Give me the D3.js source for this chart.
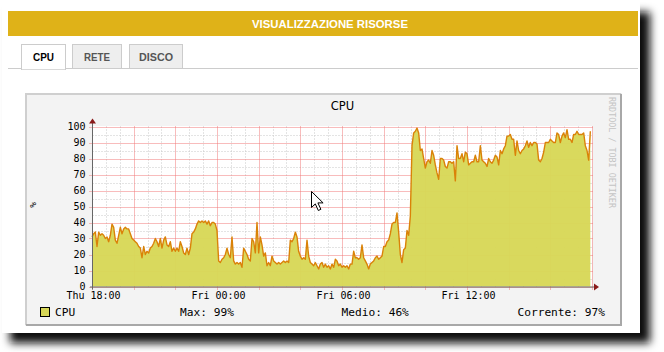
<!DOCTYPE html>
<html lang="it">
<head>
<meta charset="UTF-8">
<title>Visualizzazione risorse - CPU</title>
<script src="https://d3js.org/d3.v7.min.js"></script>
<style>
  body { margin: 0; background: #fff; }
  svg { display: block; }
</style>
</head>
<body>
<script>
// CPU usage (%), one sample every 4.8 minutes from Thu 18:00
const cpuValues = [
  31,33,34,25,34,32,33,32,30,31, 28,32,39,37,29,27,32,37,33,36,
  37,36,36,33,30,29,28,27,25,24, 18,25,20,22,21,24,25,27,30,28,
  25,30,24,29,31,26,25,28,22,24, 22,24,22,28,25,21,20,24,20,24,
  33,34,36,39,41,40,41,40,41,39, 41,38,40,40,39,35,16,15,17,18,
  20,24,20,18,31,16,14,15,14,15, 12,24,22,20,17,16,30,28,21,40,
  21,31,26,19,21,13,15,13,19,16, 15,14,15,14,15,16,15,16,15,29,
  28,30,34,31,22,19,17,18,17,29, 19,15,14,13,15,13,11,14,15,12,
  14,12,13,11,14,12,17,16,13,14, 12,13,12,13,11,14,14,22,18,18,
  17,18,26,18,16,14,11,14,15,16, 18,19,17,18,19,25,25,28,29,33,
  39,40,40,46,34,20,15,23,24,35, 32,44,88,96,97,99,96,85,86,80,
  74,78,79,77,85,82,76,71,67,80, 80,79,75,74,78,78,77,78,66,88,
  80,80,83,78,84,83,76,77,78,78, 82,78,78,88,79,78,77,75,80,78,
  77,79,82,81,76,85,83,86,88,94, 94,95,92,92,82,91,85,83,85,86,
  88,91,87,90,88,90,90,89,79,78, 80,84,90,90,90,92,91,90,90,96,
  95,90,94,96,93,98,92,92,90,95, 95,97,95,95,95,96,88,85,79,97
];
const startTime = new Date(2013, 0, 3, 18, 0);   // Thu 18:00
const stepMinutes = 4.8;
const spanHours = 24;
const yTicks = [0, 10, 20, 30, 40, 50, 60, 70, 80, 90, 100];
const tabs = ["CPU", "RETE", "DISCO"];
const pageTitle = "VISUALIZZAZIONE RISORSE";
const graphTitle = "CPU";
const watermark = "RRDTOOL / TOBI OETIKER";

const W = 664, H = 352;
const plot = { left: 92, right: 592, top: 126.5, bottom: 286.5 };
const mono = "'DejaVu Sans Mono', monospace";
const sans = "'Liberation Sans', Arial, sans-serif";

const data = cpuValues.map((v, i) => ({ t: new Date(+startTime + i * stepMinutes * 60000), v }));
const endTime = d3.timeHour.offset(startTime, spanHours);

const svg = d3.select("body").append("svg")
  .attr("width", W).attr("height", H);

// page panel with drop shadow
const defs = svg.append("defs");
defs.append("filter").attr("id", "shadow")
  .attr("x", "-10%").attr("y", "-10%").attr("width", "120%").attr("height", "120%")
  .append("feGaussianBlur").attr("stdDeviation", 4);
svg.append("rect").attr("x", 10).attr("y", 12).attr("width", 640).attr("height", 331)
  .attr("fill", "#0a0a0a").attr("filter", "url(#shadow)");
svg.append("rect").attr("x", 2).attr("y", 2).attr("width", 638).attr("height", 331)
  .attr("fill", "#fff");

// header
svg.append("rect").attr("x", 8).attr("y", 11).attr("width", 630).attr("height", 25)
  .attr("fill", "#dfb218");
svg.append("text").attr("x", 330).attr("y", 27.5)
  .attr("text-anchor", "middle").attr("fill", "#fff")
  .attr("font-family", sans).attr("font-weight", "bold").attr("font-size", 11)
  .attr("textLength", 156).attr("lengthAdjust", "spacingAndGlyphs")
  .text(pageTitle);

// tabs
const tabBoxes = [{ x: 21, w: 44, tw: 21 }, { x: 72, w: 49, tw: 26 }, { x: 129, w: 53, tw: 34 }];
svg.append("line").attr("x1", 8).attr("x2", 638).attr("y1", 68.5).attr("y2", 68.5)
  .attr("stroke", "#ccc");
const tab = svg.selectAll(".tab").data(tabs).join("g").attr("class", "tab");
tab.append("rect")
  .attr("x", (d, i) => tabBoxes[i].x + 0.5).attr("y", 44.5)
  .attr("width", (d, i) => tabBoxes[i].w).attr("height", (d, i) => i === 0 ? 25 : 24)
  .attr("fill", (d, i) => i === 0 ? "#fff" : "#eee")
  .attr("stroke", "#ccc");
tab.filter((d, i) => i === 0).append("line")
  .attr("x1", 22).attr("x2", 65).attr("y1", 68.5).attr("y2", 68.5)
  .attr("stroke", "#fff").attr("stroke-width", 1.5);
tab.append("text")
  .attr("x", (d, i) => tabBoxes[i].x + tabBoxes[i].w / 2 + 0.5).attr("y", 60.5)
  .attr("text-anchor", "middle")
  .attr("font-family", sans).attr("font-weight", "bold").attr("font-size", 11)
  .attr("fill", (d, i) => i === 0 ? "#000" : "#555")
  .attr("textLength", (d, i) => tabBoxes[i].tw).attr("lengthAdjust", "spacingAndGlyphs")
  .text(d => d);

// rrdtool image frame
svg.append("rect").attr("x", 25).attr("y", 93).attr("width", 597).attr("height", 233)
  .attr("fill", "#f3f3f3");
svg.append("path").attr("d", "M26,325V94H621").attr("fill", "none")
  .attr("stroke", "#cfcfcf").attr("stroke-width", 2);
svg.append("path").attr("d", "M26,325H621V94").attr("fill", "none")
  .attr("stroke", "#a8a8a8").attr("stroke-width", 2);

// scales
const x = d3.scaleTime().domain([startTime, endTime]).range([plot.left, plot.right]);
const y = d3.scaleLinear().domain([0, 100]).range([plot.bottom, plot.top]);

svg.append("rect").attr("x", plot.left).attr("y", plot.top - 0.5)
  .attr("width", plot.right - plot.left).attr("height", plot.bottom - plot.top + 0.5)
  .attr("fill", "#fff");

// grid: gray minor (40 min / 5 %), red major (2 h / 10 %)
const grid = svg.append("g");
const minorTimes = d3.range(0, spanHours * 60 + 1, 40)
  .filter(m => m % 120 !== 0)
  .map(m => d3.timeMinute.offset(startTime, m));
const majorTimes = d3.timeHour.every(2).range(startTime, d3.timeMinute.offset(endTime, 1));
const labelTimes = d3.timeHour.every(6).range(startTime, endTime);
const minorY = d3.range(5, 101, 10);
const px = v => Math.round(v) + 0.5;

grid.selectAll(".vmin").data(minorTimes).join("line")
  .attr("x1", d => px(x(d))).attr("x2", d => px(x(d)))
  .attr("y1", plot.top).attr("y2", plot.bottom)
  .attr("stroke", "#c8c8c8").attr("stroke-dasharray", "1,2");
grid.selectAll(".hmin").data(minorY).join("line")
  .attr("x1", plot.left + 0.5).attr("x2", plot.right + 1)
  .attr("y1", d => px(y(d))).attr("y2", d => px(y(d)))
  .attr("stroke", "#c8c8c8").attr("stroke-dasharray", "1,2");
grid.selectAll(".vmaj").data(majorTimes).join("line")
  .attr("x1", d => px(x(d))).attr("x2", d => px(x(d)))
  .attr("y1", plot.top).attr("y2", plot.bottom + 3)
  .attr("stroke", "#f07878").attr("stroke-dasharray", "1,1");
grid.selectAll(".hmaj").data(yTicks).join("line")
  .attr("x1", plot.left - 2.5).attr("x2", plot.right + 1)
  .attr("y1", d => px(y(d))).attr("y2", d => px(y(d)))
  .attr("stroke", "#f07878").attr("stroke-dasharray", "1,1");

// data
const area = d3.area().x(d => x(d.t)).y0(y(0)).y1(d => y(d.v));
const line = d3.line().x(d => x(d.t)).y(d => y(d.v));
svg.append("path").datum(data).attr("d", area).attr("fill", "#d8d858").attr("fill-opacity", 0.97);
svg.append("path").datum(data).attr("d", line)
  .attr("fill", "none").attr("stroke", "#da8208").attr("stroke-width", 1.4)
  .attr("stroke-linejoin", "round");

// axes
svg.append("line").attr("x1", plot.left + 0.5).attr("x2", plot.left + 0.5)
  .attr("y1", plot.bottom + 3).attr("y2", plot.top - 4)
  .attr("stroke", "#666");
svg.append("line").attr("x1", plot.left - 2).attr("x2", plot.right + 3)
  .attr("y1", plot.bottom + 0.5).attr("y2", plot.bottom + 0.5)
  .attr("stroke", "#666");
svg.append("path")
  .attr("d", `M${plot.left + 0.5},${plot.top - 8}l-3.5,5h7z`).attr("fill", "#8a1a1a");
svg.append("path")
  .attr("d", `M${plot.right + 7},${plot.bottom + 0.5}l-5,-3.5v7z`).attr("fill", "#8a1a1a");

// tick labels
svg.selectAll(".ylab").data(yTicks).join("text")
  .attr("x", 85.5).attr("y", d => y(d) + 3.8)
  .attr("text-anchor", "end").attr("font-family", mono).attr("font-size", 10)
  .attr("fill", "#000").text(d => d);
svg.selectAll(".xlab").data(labelTimes).join("text")
  .attr("x", d => x(d) + 1.5).attr("y", 299)
  .attr("text-anchor", "middle").attr("font-family", mono).attr("font-size", 10)
  .attr("fill", "#000").text(d3.timeFormat("%a %H:%M"));

// titles
svg.append("text").attr("x", 342.5).attr("y", 110)
  .attr("text-anchor", "middle").attr("font-family", "'DejaVu Sans', sans-serif")
  .attr("font-size", 11.5).text(graphTitle);
svg.append("text").attr("transform", "translate(36,205) rotate(-90)")
  .attr("text-anchor", "middle").attr("font-family", mono).attr("font-size", 9.5)
  .text("%");
svg.append("text").attr("transform", "translate(609,97) rotate(90)")
  .attr("font-family", mono).attr("font-size", 8.4).attr("fill", "#c4c4c4")
  .text(watermark);

// legend
const fmt = v => Math.round(v) + "%";
const stats = [
  { label: "Max: " + fmt(d3.max(cpuValues)), x: 180, anchor: "start" },
  { label: "Medio: " + fmt(d3.mean(cpuValues)), x: 341.5, anchor: "start" },
  { label: "Corrente: " + fmt(cpuValues[cpuValues.length - 1]), x: 605, anchor: "end" }
];
svg.append("rect").attr("x", 40.5).attr("y", 307.5).attr("width", 9).attr("height", 9)
  .attr("fill", "#d8d858").attr("stroke", "#000");
svg.append("text").attr("x", 55).attr("y", 316)
  .attr("font-family", mono).attr("font-size", 11.2).text(graphTitle);
svg.selectAll(".stat").data(stats).join("text")
  .attr("x", d => d.x).attr("y", 316).attr("text-anchor", d => d.anchor)
  .attr("font-family", mono).attr("font-size", 11.2).text(d => d.label);

// mouse pointer captured in the screenshot
svg.append("path")
  .attr("d", "M311.5,191.5v16l3.8,-3.6l3,6.6l2.6,-1.2l-3,-6.4h5.2z")
  .attr("fill", "#fff").attr("stroke", "#000").attr("stroke-width", 1)
  .attr("stroke-linejoin", "round");
</script>
</body>
</html>
